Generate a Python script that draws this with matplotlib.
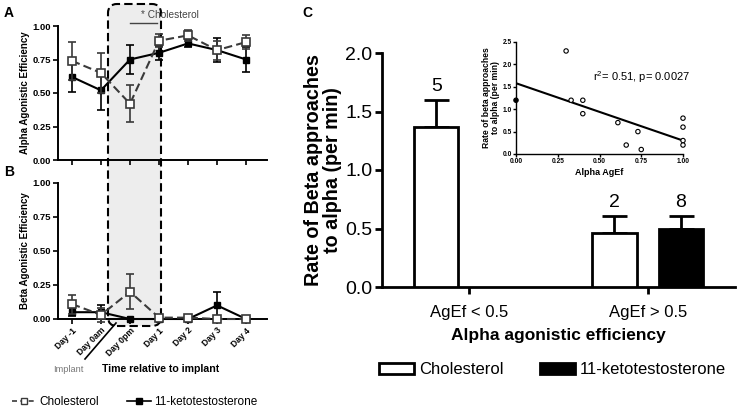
import numpy as np
import matplotlib
matplotlib.use('Agg')
import matplotlib.pyplot as plt
from matplotlib.patches import FancyBboxPatch, Patch
from matplotlib.lines import Line2D

plt.rcParams['font.family'] = ['Liberation Sans', 'DejaVu Sans']

# ---------------- data ----------------
days = ["Day -1", "Day 0am", "Day 0pm", "Day 1", "Day 2", "Day 3", "Day 4"]
alpha_chol = [0.74, 0.65, 0.42, 0.89, 0.93, 0.82, 0.88]
alpha_chol_err = [0.14, 0.15, 0.14, 0.05, 0.04, 0.07, 0.05]
alpha_kt = [0.62, 0.52, 0.75, 0.80, 0.87, 0.82, 0.75]
alpha_kt_err = [0.11, 0.15, 0.11, 0.05, 0.03, 0.09, 0.09]
beta_chol = [0.11, 0.03, 0.20, 0.01, 0.01, 0.00, 0.00]
beta_chol_err = [0.07, 0.05, 0.13, 0.00, 0.00, 0.00, 0.00]
beta_kt = [0.05, 0.05, 0.00, 0.00, 0.00, 0.10, 0.00]
beta_kt_err = [0.03, 0.05, 0.00, 0.00, 0.00, 0.10, 0.00]

groups = ["AgEf < 0.5", "AgEf > 0.5"]
rate_chol = [1.37, 0.46]
rate_chol_sem = [0.23, 0.15]
rate_kt = [np.nan, 0.50]
rate_kt_sem = [np.nan, 0.11]
n_chol = ["5", "2"]
n_kt = ["", "8"]

inset_x = [0.00, 0.30, 0.33, 0.40, 0.40, 0.61, 0.66, 0.73, 0.75, 1.00, 1.00, 1.00, 1.00]
inset_y = [1.2, 2.3, 1.2, 1.2, 0.9, 0.7, 0.2, 0.5, 0.1, 0.8, 0.6, 0.3, 0.2]
fit_x = [0.0, 1.0]
fit_y = [1.58, 0.30]

# ---------------- figure ----------------
W, H = 737, 409
fig = plt.figure(figsize=(W / 100, H / 100), dpi=100)


def ax_px(l, t, r, b):
    return fig.add_axes([l / W, (H - b) / H, (r - l) / W, (b - t) / H])


def fx(x):
    return x / W


def fy(y):
    return (H - y) / H


# gray highlighted box spanning panels A and B
box = FancyBboxPatch((1.08, (H - 326) / 100), 0.53, 3.22,
                     boxstyle="round,pad=0,rounding_size=0.09",
                     transform=fig.dpi_scale_trans, facecolor='#ededed',
                     edgecolor='black', linestyle=(0, (4, 2)), linewidth=1.5,
                     zorder=-1)
fig.add_artist(box)

x = np.arange(len(days))
chol_style = dict(color='#3a3a3a', ls=(0, (4, 2)), lw=1.5, marker='s', ms=5.5,
                  mfc='white', mec='#3a3a3a', mew=1.2, capsize=3, elinewidth=1.2,
                  capthick=1.2)
kt_style = dict(color='black', ls='-', lw=1.5, marker='s', ms=5,
                mfc='black', mec='black', capsize=3, elinewidth=1.2, capthick=1.2)


def style_small(ax):
    ax.set_facecolor('none')
    for s in ['top', 'right']:
        ax.spines[s].set_visible(False)
    for s in ['left', 'bottom']:
        ax.spines[s].set_linewidth(1.4)
    ax.tick_params(direction='out', length=3.5, width=1.2, labelsize=6.8, pad=1.5)
    ax.set_xlim(-0.48, 6.72)
    ax.set_ylim(0, 1.0)
    ax.set_yticks([0, 0.25, 0.5, 0.75, 1.0])
    ax.set_yticklabels(['0.00', '0.25', '0.50', '0.75', '1.00'], fontweight='bold')
    ax.set_xticks(x)


# Panel A
axA = ax_px(58, 26, 267, 160)
style_small(axA)
axA.errorbar(x, alpha_kt, yerr=alpha_kt_err, **kt_style, zorder=3)
axA.errorbar(x, alpha_chol, yerr=alpha_chol_err, **chol_style, zorder=4)
axA.set_xticklabels([])
axA.set_ylabel('Alpha Agonistic Efficiency', fontsize=7, fontweight='bold', labelpad=2)

# Panel B
axB = ax_px(58, 183, 267, 319)
style_small(axB)
axB.errorbar(x, beta_kt, yerr=beta_kt_err, **kt_style, zorder=3, clip_on=False)
axB.errorbar(x, beta_chol, yerr=beta_chol_err, **chol_style, zorder=4, clip_on=False)
axB.set_xticklabels(days, rotation=45, ha='right', rotation_mode='anchor',
                    fontweight='bold', fontsize=6.2)
axB.set_ylabel('Beta Agonistic Efficiency', fontsize=7, fontweight='bold', labelpad=2)

# annotations for A/B
fig.text(fx(4), fy(13), 'A', fontsize=10, fontweight='bold', va='center')
fig.text(fx(4), fy(172), 'B', fontsize=10, fontweight='bold', va='center')
fig.text(fx(141), fy(15), '* Cholesterol', fontsize=7.3, color='#444', va='center')
fig.add_artist(Line2D([fx(130), fx(157)], [fy(23), fy(23)], color='#444', lw=1))
fig.add_artist(Line2D([fx(116), fx(85)], [fy(323), fy(359)], color='black', lw=1.2))
fig.text(fx(68), fy(369), 'Implant', fontsize=6.7, color='#777', ha='center', va='center')
fig.text(fx(161), fy(369), 'Time relative to implant', fontsize=7.6,
         fontweight='bold', ha='center', va='center')

hA = [Line2D([], [], color='#3a3a3a', ls=(0, (3, 2)), lw=1.2, marker='s', ms=5,
             mfc='white', mec='#3a3a3a'),
      Line2D([], [], color='black', ls='-', lw=1.2, marker='s', ms=4.5,
             mfc='black', mec='black')]
fig.legend(hA, ['Cholesterol', '11-ketotestosterone'], loc='center left',
           bbox_to_anchor=(fx(12), fy(402)), ncol=2, frameon=False, fontsize=8.5,
           handlelength=2.0, handletextpad=0.3, columnspacing=2.4,
           borderpad=0, borderaxespad=0)

# Panel C
axC = ax_px(382, 53, 735, 287)
axC.set_facecolor('none')
pos = np.arange(len(groups))
off, bw = 0.186, 0.25
axC.bar(pos - off, rate_chol, bw, color='white', edgecolor='black', lw=2, zorder=3)
axC.bar(pos + off, rate_kt, bw, color='black', edgecolor='black', lw=2, zorder=3)
axC.errorbar(pos - off, rate_chol, yerr=[np.zeros(len(groups)), rate_chol_sem],
             fmt='none', ecolor='black', elinewidth=2, capsize=9, capthick=2, zorder=2)
axC.errorbar(pos + off, rate_kt, yerr=[np.zeros(len(groups)), rate_kt_sem],
             fmt='none', ecolor='black', elinewidth=2, capsize=9, capthick=2, zorder=2)
for i in range(len(groups)):
    if n_chol[i]:
        axC.text(pos[i] - off, rate_chol[i] + rate_chol_sem[i] + 0.04, n_chol[i],
                 ha='center', va='bottom', fontsize=14)
    if n_kt[i]:
        axC.text(pos[i] + off, rate_kt[i] + rate_kt_sem[i] + 0.04, n_kt[i],
                 ha='center', va='bottom', fontsize=14)
axC.set_xlim(-0.49, 1.49)
axC.set_ylim(0, 2.0)
axC.set_yticks([0, 0.5, 1.0, 1.5, 2.0])
axC.set_yticklabels(['0.0', '0.5', '1.0', '1.5', '2.0'])
axC.set_xticks(pos)
axC.set_xticklabels(groups)
for s in ['top', 'right']:
    axC.spines[s].set_visible(False)
for s in ['left', 'bottom']:
    axC.spines[s].set_linewidth(2)
axC.tick_params(axis='y', direction='out', length=5, width=2, labelsize=14, pad=2)
axC.tick_params(axis='x', direction='out', length=5, width=2, labelsize=12, pad=8)
axC.set_ylabel('Rate of Beta approaches\nto alpha (per min)', fontsize=14.2,
               fontweight='bold', labelpad=2, linespacing=1.05)
axC.set_xlabel('Alpha agonistic efficiency', fontsize=12.5, fontweight='bold', labelpad=6)
fig.text(fx(302), fy(13), 'C', fontsize=10, fontweight='bold', va='center')

hC = [Patch(facecolor='white', edgecolor='black', lw=2),
      Patch(facecolor='black', edgecolor='black', lw=2)]
fig.legend(hC, ['Cholesterol', '11-ketotestosterone'], loc='center left',
           bbox_to_anchor=(fx(379), fy(370)), ncol=2, frameon=False, fontsize=12,
           handlelength=2.1, handleheight=0.6, handletextpad=0.3, columnspacing=2.2,
           borderpad=0, borderaxespad=0)

# Inset
axI = ax_px(516, 42, 683, 154)
axI.set_facecolor('none')
axI.plot(fit_x, fit_y, color='black', lw=1.5, zorder=2)
face = ['black' if xi == 0 else 'white' for xi in inset_x]
axI.scatter(inset_x, inset_y, s=10, facecolors=face, edgecolors='black',
            linewidths=0.8, zorder=3, clip_on=False)
axI.set_xlim(0, 1.0)
axI.set_ylim(0, 2.5)
axI.set_xticks([0, 0.25, 0.5, 0.75, 1.0])
axI.set_xticklabels(['0.00', '0.25', '0.50', '0.75', '1.00'], fontweight='bold')
axI.set_yticks([0, 0.5, 1.0, 1.5, 2.0, 2.5])
axI.set_yticklabels(['0.0', '0.5', '1.0', '1.5', '2.0', '2.5'], fontweight='bold')
for s in ['top', 'right']:
    axI.spines[s].set_visible(False)
for s in ['left', 'bottom']:
    axI.spines[s].set_linewidth(1)
axI.tick_params(direction='out', length=2, width=1, labelsize=4.8, pad=1)
axI.set_xlabel('Alpha AgEf', fontsize=6.5, fontweight='bold', labelpad=2)
axI.set_ylabel('Rate of beta approaches\nto alpha (per min)', fontsize=6.2,
               fontweight='bold', labelpad=2, linespacing=1.0)
axI.text(0.46, 1.72, '$\\mathregular{r^2}$= 0.51, p= 0.0027', fontsize=8, va='center')

fig.savefig('out.png', dpi=100)
